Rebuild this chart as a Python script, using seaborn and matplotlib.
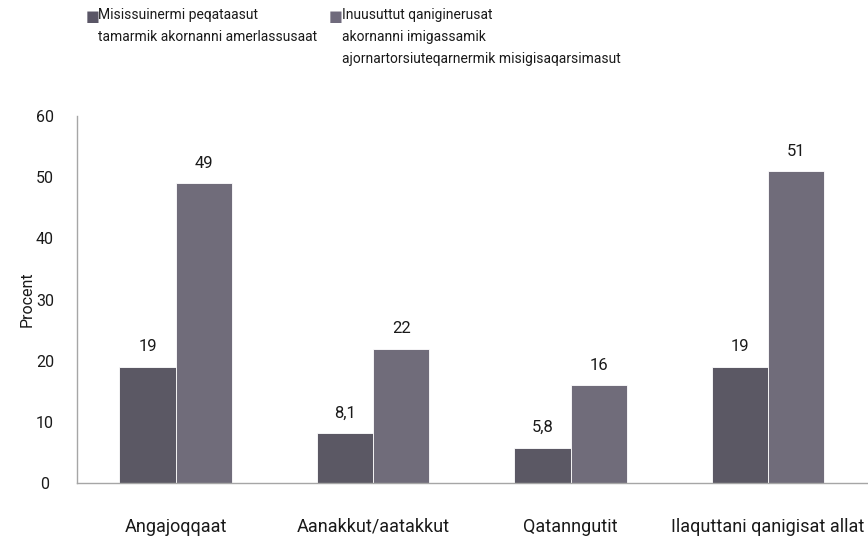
import pandas as pd
import matplotlib
matplotlib.use("Agg")
import matplotlib.pyplot as plt
import seaborn as sns

# Data
categories = ["Angajoqqaat", "Aanakkut/aatakkut", "Qatanngutit", "Ilaquttani qanigisat allat"]
series_names = ["Misissuinermi peqataasut\ntamarmik akornanni amerlassusaat",
                "Inuusuttut qaniginerusat\nakornanni imigassamik\najornartorsiuteqarnermik misigisaqarsimasut"]
values_all = [19, 8.1, 5.8, 19]
values_youth = [49, 22, 16, 51]
colors = ["#5a5666", "#6f6a7c"]

df = pd.DataFrame({
    "Kategori": categories * 2,
    "Gruppe": [series_names[0]] * 4 + [series_names[1]] * 4,
    "Procent": values_all + values_youth,
})

sns.set_style("white")
plt.rcParams["font.family"] = ["Roboto", "DejaVu Sans"]
txt_col = "#1a1a1a"

fig = plt.figure(figsize=(8.68, 5.43), dpi=100)
ax = fig.add_axes([0.0887, 0.1105, 0.91, 0.6755])

sns.barplot(data=df, x="Kategori", y="Procent", hue="Gruppe",
            palette=colors, width=0.57, ax=ax, legend=False,
            edgecolor="white", linewidth=0.6)

ax.set_xlim(-0.5, 3.5)
ax.set_ylim(0, 60)
ax.set_yticks(range(0, 61, 10))
ax.set_xlabel("")
ax.set_ylabel("Procent", fontsize=11.5, color=txt_col)
ax.yaxis.set_label_coords(-0.054, 0.5)
ax.tick_params(axis="both", length=0, labelcolor=txt_col)
ax.tick_params(axis="y", pad=23, labelsize=11.5)
ax.tick_params(axis="x", pad=25, labelsize=13)
for lab in ax.get_yticklabels():
    lab.set_horizontalalignment("center")

for s in ["top", "right"]:
    ax.spines[s].set_visible(False)
for s in ["left", "bottom"]:
    ax.spines[s].set_color("#a6a6a6")
    ax.spines[s].set_linewidth(1)

# value labels
for cont in ax.containers:
    labels = [f"{v:g}".replace(".", ",") for v in cont.datavalues]
    ax.bar_label(cont, labels=labels, padding=9, fontsize=12, color=txt_col)

# legend drawn as text with square markers
fig.text(0.099, 0.968, "■", color=colors[0], fontsize=10.5, va="center", ha="left")
fig.text(0.113, 0.985, series_names[0], fontsize=10, va="top", linespacing=1.7, color=txt_col)
fig.text(0.379, 0.968, "■", color=colors[1], fontsize=10.5, va="center", ha="left")
fig.text(0.394, 0.985, series_names[1], fontsize=10, va="top", linespacing=1.7, color=txt_col)

fig.savefig("out.png", dpi=100)
